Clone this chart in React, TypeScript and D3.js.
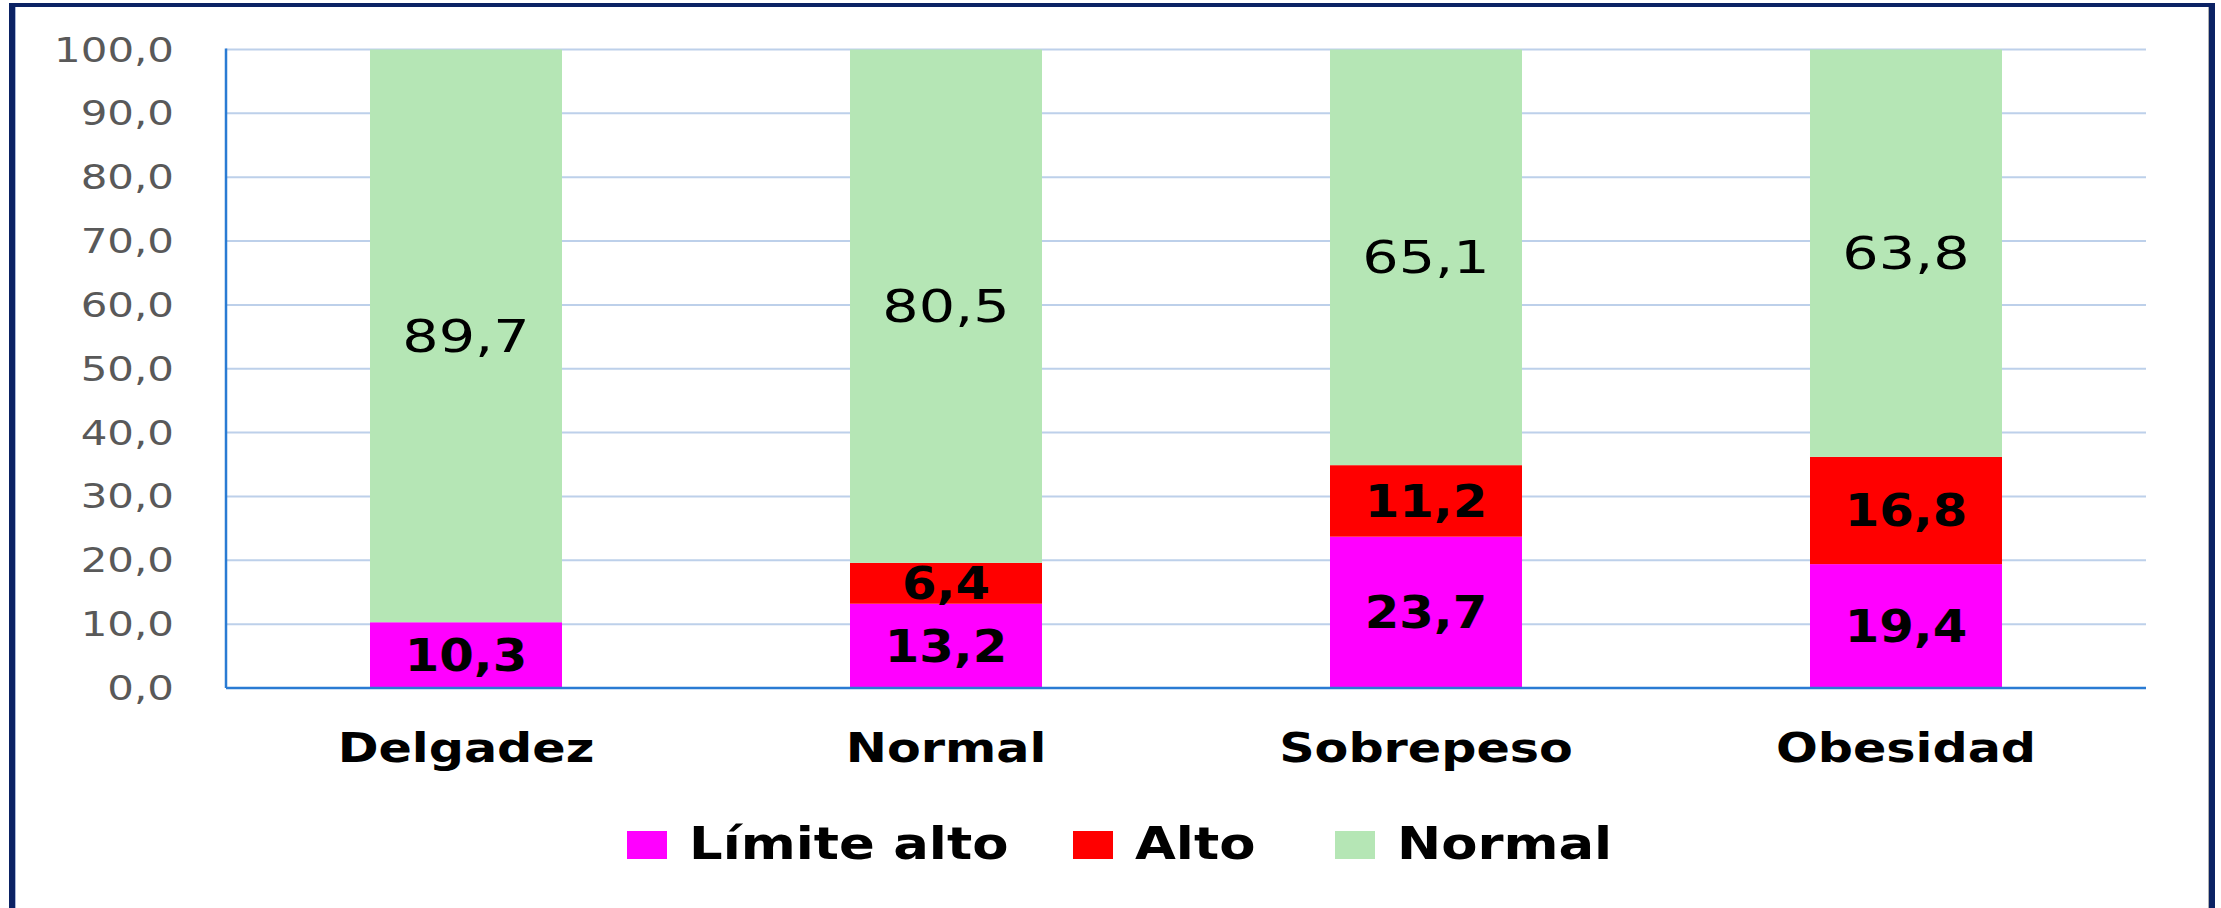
import React from "react";
import * as d3 from "d3";

const categories = ["Delgadez", "Normal", "Sobrepeso", "Obesidad"];
const limiteAlto = [10.3, 13.2, 23.7, 19.4];
const alto = [0, 6.4, 11.2, 16.8];
const normal = [89.7, 80.5, 65.1, 63.8];
const seriesNames = ["Límite alto", "Alto", "Normal"];
const yTicks = [0, 10, 20, 30, 40, 50, 60, 70, 80, 90, 100];

const W = 2221;
const H = 908;
const plot = { left: 226, right: 2146, top: 49.5, bottom: 688 };
const colors = ["#FF00FF", "#FF0000", "#B5E6B5"];
const keys = ["la", "al", "no"];

const fmt = (v: number) => v.toFixed(1).replace(".", ",");

function STxt(props: any) {
  const { x, y, sx, anchor, children, ...rest } = props;
  return (
    <text transform={`translate(${x},${y}) scale(${sx},1)`} textAnchor={anchor} {...rest}>
      {children}
    </text>
  );
}

export default function App() {
  const rows = categories.map((c, i) => ({ cat: c, la: limiteAlto[i], al: alto[i], no: normal[i] }));
  const stacked = d3.stack<any>().keys(keys)(rows);

  const x = d3
    .scaleBand<string>()
    .domain(categories)
    .range([plot.left, plot.right])
    .paddingInner(0.6)
    .paddingOuter(0.3);
  const y = d3.scaleLinear().domain([0, 100]).range([plot.bottom, plot.top]);

  const legendX = [627, 1073, 1335];

  return (
    <svg
      width={W}
      height={H}
      style={{ position: "absolute", left: 0, top: 0, background: "#fff" }}
      fontFamily="'DejaVu Sans', Verdana, sans-serif"
    >
      <rect x={0} y={0} width={W} height={H} fill="#fff" />
      {/* gridlines */}
      {yTicks.map((t) => (
        <line
          key={"g" + t}
          x1={plot.left}
          x2={plot.right}
          y1={y(t)}
          y2={y(t)}
          stroke="#BDD0EA"
          strokeWidth={2}
        />
      ))}
      {/* bars */}
      {stacked.map((s, si) =>
        s.map((d, i) => {
          const y0 = y(Math.min(100, d[0]));
          const y1 = y(Math.min(100, d[1]));
          if (y0 - y1 <= 0) return null;
          return (
            <rect
              key={`b${si}-${i}`}
              x={x(categories[i])}
              width={x.bandwidth()}
              y={y1}
              height={y0 - y1}
              fill={colors[si]}
            />
          );
        })
      )}
      {/* axes */}
      <line x1={plot.left} x2={plot.left} y1={plot.top - 1} y2={plot.bottom} stroke="#2A7BD3" strokeWidth={2.5} />
      <line x1={plot.left} x2={plot.right} y1={plot.bottom} y2={plot.bottom} stroke="#2A7BD3" strokeWidth={2.5} />
      {/* y tick labels */}
      {yTicks.map((t) => (
        <STxt key={"t" + t} x={174} y={y(t) + 12} sx={1.27} anchor="end" fontSize={33} fill="#595959">
          {fmt(t)}
        </STxt>
      ))}
      {/* data labels */}
      {stacked.map((s, si) =>
        s.map((d, i) => {
          const v = d[1] - d[0];
          if (v <= 0.0001) return null;
          const cy = y((Math.min(100, d[0]) + Math.min(100, d[1])) / 2);
          const cx = (x(categories[i]) as number) + x.bandwidth() / 2;
          const bold = si < 2;
          return (
            <STxt
              key={`l${si}-${i}`}
              x={cx}
              y={cy + 16}
              sx={bold ? 1.13 : 1.3}
              anchor="middle"
              fontSize={44}
              fontWeight={bold ? "bold" : "normal"}
              fill="#000"
            >
              {fmt(v)}
            </STxt>
          );
        })
      )}
      {/* category labels */}
      {categories.map((c) => (
        <STxt
          key={"c" + c}
          x={(x(c) as number) + x.bandwidth() / 2}
          y={762}
          sx={1.2}
          anchor="middle"
          fontSize={41}
          fontWeight="bold"
          fill="#000"
        >
          {c}
        </STxt>
      ))}
      {/* legend */}
      {seriesNames.map((n, i) => (
        <g key={"lg" + n}>
          <rect x={legendX[i]} y={831} width={40} height={28} fill={colors[i]} />
          <STxt x={legendX[i] + 62} y={859} sx={1.2} anchor="start" fontSize={44} fontWeight="bold" fill="#000">
            {n}
          </STxt>
        </g>
      ))}
      {/* border */}
      <rect x={9} y={3} width={2206} height={4} fill="#0B2264" />
      <rect x={9} y={3} width={6} height={H} fill="#0B2264" />
      <rect x={2209} y={3} width={6} height={H} fill="#0B2264" />
      <line x1={15.5} x2={15.5} y1={7} y2={H} stroke="#A9B8D8" strokeWidth={1} />
      <line x1={2208.5} x2={2208.5} y1={7} y2={H} stroke="#B0B0B0" strokeWidth={1} />
    </svg>
  );
}
